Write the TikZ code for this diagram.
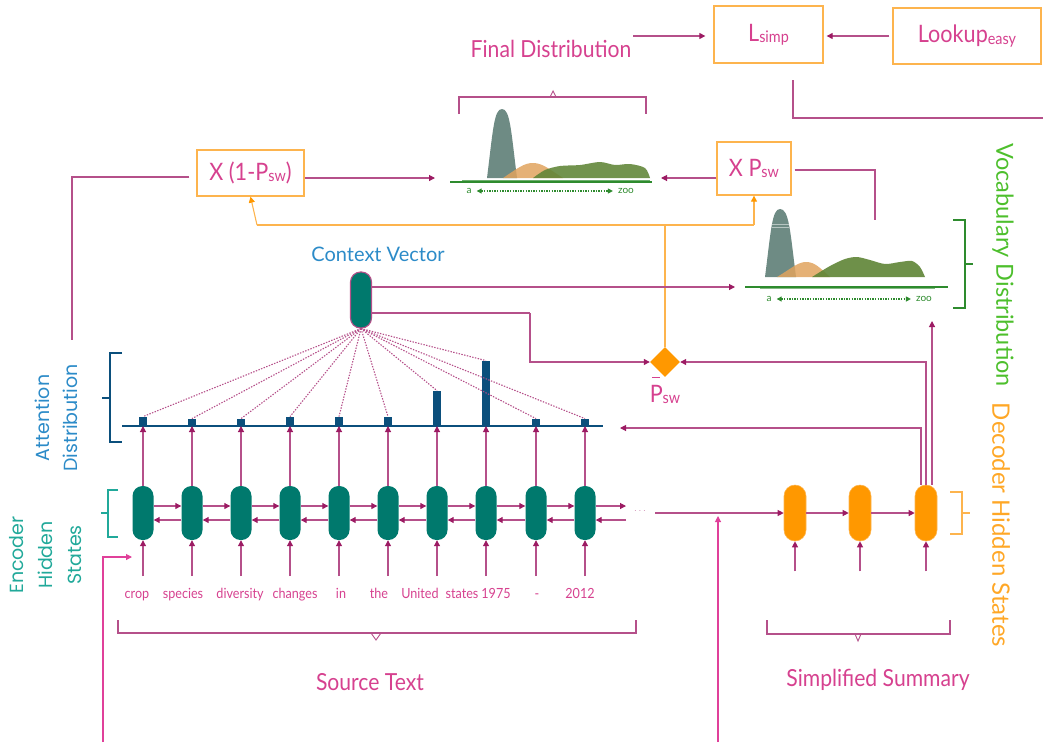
\documentclass[tikz,border=0pt]{standalone}
\usepackage{fontspec}
\setmainfont{Lato}
\newfontfamily\condf[FakeStretch=0.9]{Lato}
\newfontfamily\geof{Poppins}
\usetikzlibrary{arrows.meta,shapes.geometric}
\definecolor{magt}{HTML}{D6418F}
\definecolor{lnc}{HTML}{B5508A}
\definecolor{tipc}{HTML}{9C1B63}
\definecolor{pinkl}{HTML}{E0409A}
\definecolor{orb}{HTML}{FDB44E}
\definecolor{orf}{HTML}{FF9800}
\definecolor{ort}{HTML}{FFA726}
\definecolor{tealc}{HTML}{00796D}
\definecolor{navy}{HTML}{0B4F7C}
\definecolor{bluet}{HTML}{2C8BC8}
\definecolor{greent}{HTML}{4DBF2C}
\definecolor{greenb}{HTML}{2E8B2E}
\definecolor{tealt}{HTML}{21A99A}
\definecolor{dgray}{HTML}{6E8B84}
\definecolor{dor}{HTML}{E0A35E}
\definecolor{dgreen}{HTML}{5E8435}
\tikzset{
  conn/.style={draw=lnc, line width=1.1pt},
  arr/.style={conn, -{Triangle[length=6pt,width=6pt,color=tipc]}},
  parr/.style={draw=pinkl, line width=1.1pt, -{Triangle[length=6pt,width=6pt]}},
  oline/.style={draw=orb, line width=1.1pt},
  oarr/.style={oline, -{Triangle[length=6pt,width=6pt,color=orf]}},
  obox/.style={draw=orb, line width=1.3pt, fill=white, text=magt, inner sep=0pt},
  enc/.style={rectangle, rounded corners=10pt, fill=tealc, minimum width=21pt, minimum height=54pt, inner sep=0pt},
  dec/.style={rectangle, rounded corners=11pt, fill=orf, draw=orb, line width=0.6pt, minimum width=22pt, minimum height=56pt, inner sep=0pt},
  barn/.style={rectangle, fill=navy, minimum width=8pt, inner sep=0pt, anchor=south},
  dotl/.style={draw=lnc, line width=1.1pt, dash pattern=on 1.4pt off 1.4pt},
  word/.style={text=magt, font=\condf\fontsize{14}{15}\selectfont, inner sep=0pt, anchor=base},
  lbl/.style={font=\condf\fontsize{23.5}{26}\selectfont, inner sep=0pt},
  brk/.style={line width=1.1pt}
}
\begin{document}
\begin{tikzpicture}[x=1pt,y=-1pt]
\useasboundingbox (0,0) rectangle (1043,742);

% ---------- top ----------
\node[lbl, text=magt] (fd) at (551,49) {Final Distribution};
\node[obox, minimum width=109pt, minimum height=57pt, font=\condf\fontsize{24}{26}\selectfont] (lsimp) at (768.5,34.5) {L\raisebox{-1pt}{\fontsize{16}{16}\selectfont simp}};
\node[obox, minimum width=148pt, minimum height=56pt, font=\condf\fontsize{24}{26}\selectfont] (lookup) at (967,36) {Lookup\raisebox{-2pt}{\fontsize{16}{16}\selectfont easy}};
\coordinate (fdo) at (633,36);
\draw[arr, shorten >=8pt] (fdo) -- (lsimp.west |- fdo);
\draw[arr, shorten <=3pt, shorten >=3pt] (lookup.west) -- (lsimp.east |- lookup.west);
\coordinate (ls1) at (793,80);
\coordinate (ls2) at (1043,118);
\draw[conn] (ls1) |- (ls2);

% ---------- final distribution ----------
\draw[lnc, brk] (459,114) -- (459,97) -- (646,97) -- (646,114);
\draw[lnc, line width=0.9pt] (550,97) -- (553,91) -- (556,97);
\fill[dgray] (487,178) .. controls (493,130) and (494,109) .. (502,109) .. controls (510,109) and (511,130) .. (517,178) -- cycle;
\fill[dor, opacity=0.85] (503,178) .. controls (518,168) and (524,163) .. (533,163) .. controls (543,163) and (550,170) .. (563,178) -- cycle;
\fill[dgreen, opacity=0.88] plot[smooth] coordinates {(533,178) (545,170) (560,166) (580,165) (600,162) (615,165) (630,164) (645,168) (650,178)} -- cycle;
\draw[greenb!70!white, line width=2.2pt] (462,181) -- (650,181);
\draw[greenb, line width=1.1pt] (450,182) -- (652,182);
\node[text=greenb, font=\fontsize{10}{10}\selectfont, inner sep=0pt] (fa) at (469,191) {a};
\node[text=greenb, font=\fontsize{10}{10}\selectfont, inner sep=0pt] (fz) at (626,191) {zoo};
\draw[greenb, line width=1.1pt, dash pattern=on 1.3pt off 1.3pt, {Triangle[length=5pt,width=5pt]}-{Triangle[length=5pt,width=5pt]}] ([xshift=5pt]fa.east) -- ([xshift=-5pt]fz.west);

% ---------- vocabulary distribution ----------
\fill[dgray] (765,277) .. controls (771,230) and (772,209) .. (780,209) .. controls (789,209) and (790,230) .. (796,277) -- cycle;
\draw[white, opacity=0.5, line width=0.6pt] (772,224) -- (789,224) (772,227) -- (789,227);
\fill[dor, opacity=0.85] (777,277) .. controls (792,268) and (798,262) .. (806,262) .. controls (815,262) and (820,268) .. (830,277) -- cycle;
\fill[dgreen, opacity=0.9] plot[smooth] coordinates {(812,277) (830,266) (845,259) (857,257) (870,260) (885,264) (900,262) (912,261) (920,267) (925,277)} -- cycle;
\draw[greenb!60!white, line width=2.2pt] (760,288) -- (935,288);
\draw[greenb, line width=1.1pt] (745,287) -- (948,287);
\node[text=greenb, font=\fontsize{10}{10}\selectfont, inner sep=0pt] (va) at (769,299) {a};
\node[text=greenb, font=\fontsize{10}{10}\selectfont, inner sep=0pt] (vz) at (924,299) {zoo};
\draw[greenb, line width=1.1pt, dash pattern=on 1.3pt off 1.3pt, {Triangle[length=5pt,width=5pt]}-{Triangle[length=5pt,width=5pt]}] ([xshift=5pt]va.east) -- ([xshift=-5pt]vz.west);
\draw[greenb, brk] (953,220) -- (965,220) -- (965,308) -- (953,308);
\draw[greenb, brk] (965,264) -- (973,264);
\node[lbl, text=greent, rotate=-90, font=\fontsize{23.5}{26}\selectfont] (vdlab) at (1003,265) {Vocabulary Distribution};

% ---------- multiplier boxes ----------
\node[obox, minimum width=107pt, minimum height=46pt, font=\condf\fontsize{24}{26}\selectfont] (x1) at (250.5,173) {X (1-P\raisebox{-1pt}{\fontsize{16}{16}\selectfont sw})};
\node[obox, minimum width=74pt, minimum height=53pt, font=\condf\fontsize{24}{26}\selectfont] (x2) at (754,168.5) {X P\raisebox{-1pt}{\fontsize{16}{16}\selectfont sw}};
\coordinate (fdl) at (435,178);
\coordinate (fdr) at (661,178);
\draw[arr] (x1.east |- fdl) -- (fdl);
\draw[arr] (x2.west |- fdr) -- (fdr);
\coordinate (x1o) at (72,340);
\coordinate (x1y) at (0,177);
\draw[conn, shorten <=7pt] (x1.west |- x1y) -| (x1o);
\coordinate (x2o) at (875,220);
\coordinate (x2y) at (0,170);
\draw[conn, shorten <=3pt] (x2.east |- x2y) -| (x2o);

% ---------- switch ----------
\node[diamond, fill=orf, minimum width=30pt, minimum height=30pt, inner sep=0pt] (dia) at (665,362) {};
\node[text=magt, font=\condf\fontsize{24}{26}\selectfont, inner sep=0pt] (psw) at (665,394) {P\raisebox{-1pt}{\fontsize{16}{16}\selectfont sw}};
\draw[magt, line width=1pt] (652,377) -- (660,377);
\coordinate (oy1) at (257,225);
\coordinate (oy2) at (754,225);
\draw[oline] (oy1) -- (oy2);
\draw[oline] (dia.north) -- (dia.north |- oy1);
\draw[oarr] (oy1) -- (x1.south);
\draw[oarr] (oy2) -- (x2.south);

% ---------- context vector ----------
\node[rectangle, rounded corners=10pt, fill=tealc, draw=lnc, line width=1.1pt, minimum width=21pt, minimum height=56pt, inner sep=0pt] (cv) at (361,300) {};
\node[lbl, text=bluet, font=\fontsize{20}{22}\selectfont] (cvl) at (378,254) {Context Vector};
\coordinate (vdl) at (735,287);
\draw[arr] (cv.east |- vdl) -- (vdl);
\coordinate (cvk) at (530,313);
\draw[conn] (cv.east |- cvk) -- (cvk);
\draw[arr] (cvk) |- (dia.west);

% ---------- attention ----------
\coordinate (attL) at (122,426);
\coordinate (attR) at (603,426);
\draw[navy, line width=1.2pt] (attL) -- (attR);
\draw[navy, brk] (122,353) -- (110,353) -- (110,442) -- (122,442);
\draw[navy, brk] (110,398) -- (102,398);
\node[text=bluet, rotate=90, align=center, font=\geof\fontsize{19}{28}\selectfont, inner sep=0pt] (attlab) at (56,418) {Attention\\Distribution};

\foreach \x/\h [count=\i] in {143/9,192/7,241/7,290/9,339/9,388/9,437/35,486/65,536/7,585/7} {
  \node[barn, minimum height=\h pt] (b\i) at (\x,426) {};
  \node[enc] (e\i) at (\x,513) {};
  \draw[dotl] (cv.south) -- (b\i.north);
  \draw[arr] (e\i.north) -- (b\i.south);
  \coordinate (in\i) at (\x,576);
  \draw[arr] (in\i) -- (e\i.south);
}
\foreach \i in {1,...,9} {
  \pgfmathtruncatemacro{\j}{\i+1}
  \draw[arr] ([yshift=7pt]e\i.east) -- ([yshift=7pt]e\j.west);
  \draw[arr] ([yshift=-7pt]e\j.west) -- ([yshift=-7pt]e\i.east);
}
\coordinate (fw) at (626,506);
\coordinate (bw) at (626,520);
\draw[arr] ([yshift=7pt]e10.east) -- (fw);
\draw[arr] (bw) -- ([yshift=-7pt]e10.east);
\node[text=lnc!70!white, font=\fontsize{10}{10}\selectfont, inner sep=0pt] (dots) at (640,511) {$\cdots$};

\draw[tealt, brk] (118,490) -- (108,490) -- (108,537) -- (118,537);
\draw[tealt, brk] (108,513) -- (101,513);
\node[text=tealt, rotate=90, align=center, font=\geof\fontsize{19}{29}\selectfont, inner sep=0pt] (enclab) at (46,555) {Encoder\\Hidden\\States};

% words
\node[word] (w1) at (137,598) {crop};
\node[word] (w2) at (183,598) {species};
\node[word] (w3) at (240,598) {diversity};
\node[word] (w4) at (295,598) {changes};
\node[word] (w5) at (341,598) {in};
\node[word] (w6) at (379,598) {the};
\node[word] (w7) at (420,598) {United};
\node[word] (w8) at (462,598) {states};
\node[word] (w9) at (496,598) {1975};
\node[word] (w10) at (537,598) {-};
\node[word] (w11) at (580,598) {2012};

% source bracket
\draw[lnc, brk] (118,620) -- (118,633) -- (636,633) -- (636,620);
\draw[lnc, line width=0.9pt] (371,633) -- (376,640) -- (381,633);
\node[lbl, text=magt] (src) at (370,682) {Source Text};

% left feed line
\coordinate (lb) at (103,742);
\coordinate (lbt) at (132,557);
\draw[parr] (lb) |- (lbt);

% ---------- decoder ----------
\node[dec] (d1) at (795,513) {};
\node[dec] (d2) at (860,513) {};
\node[dec] (d3) at (926,513) {};
\coordinate (dl) at (655,513);
\draw[arr] (dl) -- (d1.west);
\coordinate (vb) at (718,742);
\coordinate (vt) at (718,516);
\draw[parr] (vb) -- (vt);
\draw[arr] (d1.east) -- (d2.west);
\draw[arr] (d2.east) -- (d3.west);
\foreach \n in {1,2,3} {
  \coordinate (din\n) at ([yshift=-30pt]d\n.south);
  \draw[arr] (din\n) -- (d\n.south);
}
\coordinate (attin) at (620,428);
\draw[arr] ([xshift=-5pt]d3.north) |- (attin);
\draw[arr] (d3.north) |- (dia.east);
\coordinate (vin) at (932,321);
\draw[arr] ([xshift=6pt]d3.north) -- (vin);
\draw[orb, brk] (950,492) -- (962,492) -- (962,534) -- (950,534);
\draw[orb, brk] (962,513) -- (970,513);
\node[lbl, text=ort, rotate=-90, font=\fontsize{24}{26}\selectfont] (declab) at (1001,525) {Decoder Hidden States};

% summary bracket
\draw[lnc, brk] (767,620) -- (767,634) -- (950,634) -- (950,620);
\draw[lnc, line width=0.9pt] (855,634) -- (858,641) -- (861,634);
\node[lbl, text=magt] (sum) at (878,680) {Simplified Summary};
\end{tikzpicture}
\end{document}
